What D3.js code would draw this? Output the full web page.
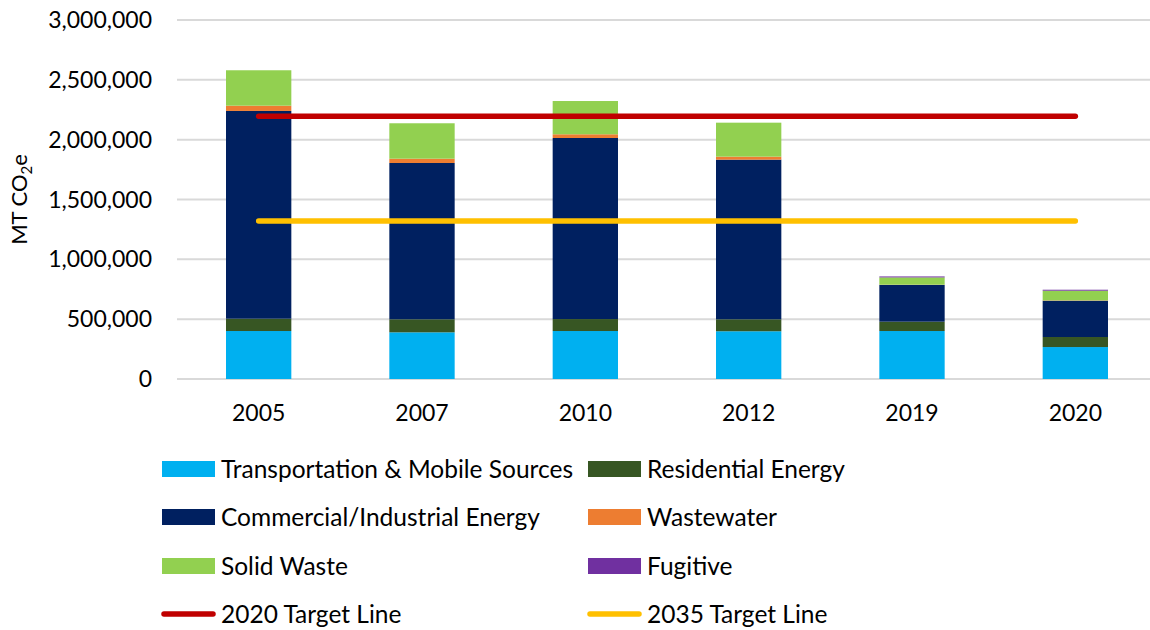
<!DOCTYPE html>
<html>
<head>
<meta charset="utf-8">
<script src="https://cdn.jsdelivr.net/npm/d3@7/dist/d3.min.js"></script>
<style>
  body { margin: 0; background: #fff; }
  text { font-family: Lato, "Open Sans", sans-serif; fill: #000; }
</style>
</head>
<body>
<div id="chart"></div>
<script>
// data
var years = ["2005", "2007", "2010", "2012", "2019", "2020"];
var sectors = ["Transportation & Mobile Sources", "Residential Energy", "Commercial/Industrial Energy", "Wastewater", "Solid Waste", "Fugitive"];
var transport   = [401000, 390000, 401000, 399000, 401000, 267000];
var residential = [103000, 109000, 100000, 100000, 78000, 84000];
var commercial  = [1736000, 1306000, 1513000, 1334000, 307000, 303000];
var wastewater  = [44000, 36000, 31000, 25000, 2000, 3000];
var solidWaste  = [296000, 296000, 278000, 284000, 61000, 81000];
var fugitive    = [0, 0, 0, 0, 8000, 8000];
var targets = [{ name: "2020 Target Line", value: 2195000 }, { name: "2035 Target Line", value: 1320000 }];
var yTicks = [0, 500000, 1000000, 1500000, 2000000, 2500000, 3000000];

var colors = ["#00B0F0", "#375623", "#002060", "#ED7D31", "#92D050", "#7030A0"];
var targetColors = ["#C00000", "#FFC000"];

var width = 1150, height = 630;
var margin = { top: 20, left: 177, right: -7, bottom: 251 };

var svg = d3.select("#chart")
	.append("svg")
	.attr("width", width)
	.attr("height", height);

var x = d3.scaleBand()
	.domain(years)
	.range([margin.left, width - margin.right])
	.paddingInner(0.6)
	.paddingOuter(0.3);

var y = d3.scaleLinear()
	.domain([0, 3000000])
	.range([height - margin.bottom, margin.top]);

// build rows for the stack
var series = [transport, residential, commercial, wastewater, solidWaste, fugitive];
var rows = years.map(function(yr, i) {
	var r = { year: yr };
	sectors.forEach(function(s, j) { r[s] = series[j][i]; });
	return r;
});
var stacked = d3.stack().keys(sectors)(rows);

// gridlines
svg.append("g")
	.selectAll("line")
	.data(yTicks)
	.enter().append("line")
	.attr("x1", margin.left)
	.attr("x2", width - margin.right)
	.attr("y1", function(d) { return y(d); })
	.attr("y2", function(d) { return y(d); })
	.attr("stroke", "#d9d9d9")
	.attr("stroke-width", 2);

// y axis labels
var fmt = d3.format(",");
svg.append("g")
	.selectAll("text")
	.data(yTicks)
	.enter().append("text")
	.attr("x", 152)
	.attr("y", function(d) { return y(d); })
	.attr("dy", "0.35em")
	.attr("text-anchor", "end")
	.style("font-size", "23px")
	.text(function(d) { return fmt(d); });

// y title with subscript
var yt = svg.append("text")
	.attr("transform", "translate(27," + y(1500000) + ") rotate(-90)")
	.attr("text-anchor", "middle")
	.style("font-size", "22px");
yt.append("tspan").text("MT CO");
yt.append("tspan").attr("dy", 5).style("font-size", "15px").text("2");
yt.append("tspan").attr("dy", -5).text("e");

// bars
svg.append("g")
	.selectAll("g")
	.data(stacked)
	.enter().append("g")
	.attr("fill", function(d, i) { return colors[i]; })
	.selectAll("rect")
	.data(function(d) { return d; })
	.enter().append("rect")
	.attr("x", function(d) { return x(d.data.year); })
	.attr("width", x.bandwidth())
	.attr("y", function(d) { return y(d[1]); })
	.attr("height", function(d) { return y(d[0]) - y(d[1]); });

// x labels
svg.append("g")
	.selectAll("text")
	.data(years)
	.enter().append("text")
	.attr("x", function(d) { return x(d) + x.bandwidth() / 2; })
	.attr("y", 413)
	.attr("dy", "0.35em")
	.attr("text-anchor", "middle")
	.style("font-size", "23px")
	.text(function(d) { return d; });

// target lines
var x0 = x(years[0]) + x.bandwidth() / 2,
	x1 = x(years[years.length - 1]) + x.bandwidth() / 2;
svg.append("g")
	.selectAll("line")
	.data(targets)
	.enter().append("line")
	.attr("x1", x0)
	.attr("x2", x1)
	.attr("y1", function(d) { return y(d.value); })
	.attr("y2", function(d) { return y(d.value); })
	.attr("stroke", function(d, i) { return targetColors[i]; })
	.attr("stroke-width", 5.5)
	.attr("stroke-linecap", "round");

// legend
var legendItems = sectors.map(function(s, i) { return { name: s, color: colors[i], line: false }; })
	.concat(targets.map(function(t, i) { return { name: t.name, color: targetColors[i], line: true }; }));
var colX = [162, 588], rowY = [469, 517, 566, 614];

var leg = svg.append("g")
	.selectAll("g")
	.data(legendItems)
	.enter().append("g")
	.attr("transform", function(d, i) { return "translate(" + colX[i % 2] + "," + rowY[Math.floor(i / 2)] + ")"; });

leg.filter(function(d) { return !d.line; })
	.append("rect")
	.attr("x", 0)
	.attr("y", -8)
	.attr("width", 53)
	.attr("height", 16)
	.attr("fill", function(d) { return d.color; });

leg.filter(function(d) { return d.line; })
	.append("line")
	.attr("x1", 2)
	.attr("x2", 51)
	.attr("y1", 0)
	.attr("y2", 0)
	.attr("stroke", function(d) { return d.color; })
	.attr("stroke-width", 5.5)
	.attr("stroke-linecap", "round");

leg.append("text")
	.attr("x", 59)
	.attr("y", 0)
	.attr("dy", "0.35em")
	.style("font-size", "24.5px")
	.text(function(d) { return d.name; });
</script>
</body>
</html>
